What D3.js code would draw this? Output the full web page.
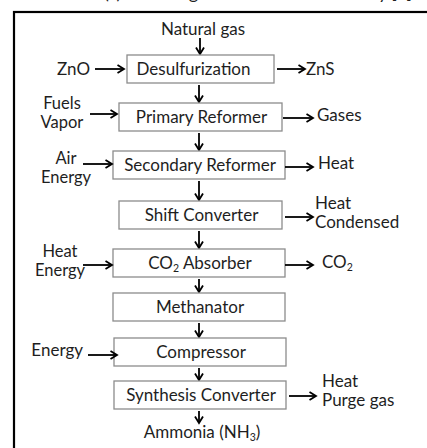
<!DOCTYPE html>
<html><head><meta charset="utf-8">
<script src="https://cdn.jsdelivr.net/npm/d3@7"></script>
<style>body{margin:0;background:#fff}svg{display:block}</style>
</head><body>
<svg id="c" width="427" height="448"></svg>
<script>
// ---- data ----
const title = "(a) Flow diagram of ammonia industry [1]";
const feedIn = "Natural gas";
const product = "Ammonia (NH_3)";
const steps = ["Desulfurization","Primary Reformer","Secondary Reformer","Shift Converter","CO_2 Absorber","Methanator","Compressor","Synthesis Converter"];
const inputs = [["ZnO"],["Fuels","Vapor"],["Air","Energy"],[],["Heat","Energy"],[],["Energy"],[]];
const outputs = [["ZnS"],["Gases"],["Heat"],["Heat","Condensed"],["CO_2"],[],[],["Heat","Purge gas"]];

// ---- layout ----
const rowTop = [55,103,151,201,249,293,338,381];
const boxH = 28;
const boxL = [127,119,113,119,113,113,114,114];
const boxR = [274,282,285,282,285,285,286,286];
const textDx = [-8,0,0,0,0,0,0,0];
const inArrow = {0:[95,124,0],1:[90,117,-3],2:[83,112,-1],4:[83,112,2],6:[88,117,3]};
const inLabel = {0:{x:90,a:"end",dy:[6]},1:{x:62,a:"middle",dy:[-8,11]},2:{x:66,a:"middle",dy:[-1,18]},4:{x:60,a:"middle",dy:[-6,13]},6:{x:83,a:"end",dy:[4]}};
const outArrow = {0:[277,305,0],1:[283,313,1],2:[285,313,2],3:[285,313,2],4:[285,313,2],7:[289,316,1]};
const outLabel = {0:{x:306,dy:[6]},1:{x:317,dy:[4]},2:{x:318,dy:[4]},3:{x:315,dy:[-6,13]},4:{x:322,dy:[5]},7:{x:322,dy:[-8,11]}};
const cx = 199;

const svg = d3.select("#c");
const FONT = "Lato, 'Open Sans', sans-serif";
const FS = 17;
const y = d3.scaleOrdinal().domain(steps).range(rowTop);

svg.append("defs").append("marker").attr("id","ah")
  .attr("viewBox","-1 -5 9 10").attr("refX",6.5).attr("refY",0)
  .attr("markerWidth",9).attr("markerHeight",10).attr("markerUnits","userSpaceOnUse")
  .attr("orient","auto")
  .append("path").attr("d","M0,-4 L6.5,0 L0,4").attr("fill","none").attr("stroke","#000").attr("stroke-width",1.8);

function richText(sel, str){
  const parts = str.split(/_(\d)/);
  let shifted = false;
  parts.forEach((p,i)=>{
    if(!p) return;
    if(i%2===1){
      sel.append("tspan").attr("font-size",FS*0.62).attr("dy",3).text(p);
      shifted = true;
    } else {
      const ts = sel.append("tspan").text(p);
      if(shifted){ ts.attr("dy",-3); shifted = false; }
    }
  });
}
function txt(x,yy,str,anchor,fs){
  const t = svg.append("text").attr("x",x).attr("y",yy).attr("text-anchor",anchor||"start")
    .attr("font-family",FONT).attr("font-size",fs||FS).attr("fill","#1e1e1e");
  richText(t,str);
  return t;
}
function arrow(x1,y1,x2,y2){
  svg.append("line").attr("x1",x1).attr("y1",y1).attr("x2",x2).attr("y2",y2)
    .attr("stroke","#000").attr("stroke-width",1.8).attr("marker-end","url(#ah)");
}

// title (cut off at top, as in the reference) and frame
svg.append("text").attr("x",104).attr("y",-1.5).attr("font-family",FONT).attr("font-size",18)
  .attr("textLength",308).attr("lengthAdjust","spacing").attr("fill","#222").text(title);
svg.append("rect").attr("x",14).attr("y",12).attr("width",440).attr("height",460)
  .attr("fill","none").attr("stroke","#000").attr("stroke-width",2.2);

// feed
txt(cx+4,35,feedIn,"middle");
arrow(cx+1,38,cx+1,54);

steps.forEach((s,i)=>{
  const top = y(s), mid = top+boxH/2;
  svg.append("rect").attr("x",boxL[i]).attr("y",top).attr("width",boxR[i]-boxL[i]).attr("height",boxH)
    .attr("fill","#fff").attr("stroke","#8c8c8c").attr("stroke-width",1.3);
  txt((boxL[i]+boxR[i])/2+textDx[i]+1, mid+6, s, "middle");
  const nextTop = i<steps.length-1 ? y(steps[i+1]) : top+boxH+15;
  arrow(cx, top+boxH+2, cx, nextTop-1);
  if(inArrow[i]){
    const a = inArrow[i]; arrow(a[0], mid+a[2], a[1], mid+a[2]);
    const L = inLabel[i];
    const fs = inputs[i].length>1 ? 16.5 : FS;
    inputs[i].forEach((t,k)=>txt(L.x, mid+L.dy[k], t, L.a, fs));
  }
  if(outArrow[i]){
    const a = outArrow[i]; arrow(a[0], mid+a[2], a[1], mid+a[2]);
    const L = outLabel[i];
    outputs[i].forEach((t,k)=>txt(L.x, mid+L.dy[k], t, "start"));
  }
});
txt(cx+3,438,product,"middle");
</script>
</body></html>
